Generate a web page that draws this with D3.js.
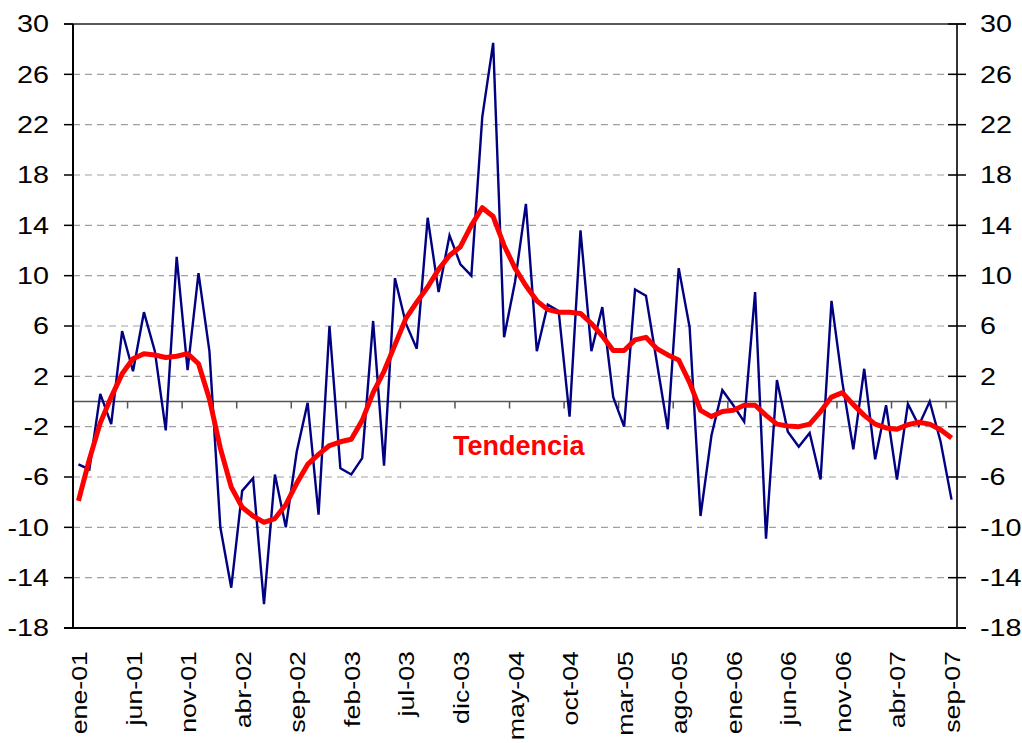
<!DOCTYPE html>
<html>
<head>
<meta charset="utf-8">
<script src="https://cdn.jsdelivr.net/npm/d3@7"></script>
<style>
  html, body { margin: 0; padding: 0; background: #fff; }
  svg { display: block; }
  text { font-family: "Liberation Sans", Arial, sans-serif; }
</style>
</head>
<body>
<svg id="chart" width="1022" height="743"></svg>
<script>
// ---- data ----
const monthNames = ["ene","feb","mar","abr","may","jun","jul","ago","sep","oct","nov","dic"];
const years = ["01","02","03","04","05","06","07"];
const categories = [];
years.forEach(y => monthNames.forEach(m => categories.push(m + "-" + y)));
categories.length = 81; // ene-01 .. sep-07

const monthly = [
  -5.0, -5.4, 0.6, -1.8, 5.6, 2.4, 7.1, 4.0, -2.3, 11.5, 2.5, 10.2,
  4.0, -10.0, -14.8, -7.1, -6.1, -16.1, -5.8, -10.0, -4.0, -0.1, -9.0, 6.0,
  -5.3, -5.8, -4.5, 6.4, -5.1, 9.8, 6.2, 4.2, 14.6, 8.7, 13.2, 10.9,
  10.0, 22.6, 28.5, 5.1, 9.5, 15.7, 4.0, 7.7, 7.2, -1.2, 13.6, 4.0,
  7.5, 0.35, -2.0, 8.9, 8.4, 3.1, -2.2, 10.6, 5.9, -9.1, -2.7, 0.9,
  -0.3, -1.6, 8.7, -10.9, 1.7, -2.4, -3.6, -2.5, -6.2, 8.0, 1.5, -3.8,
  2.6, -4.6, -0.3, -6.2, -0.2, -1.9, 0.0, -3.2, -7.8
];

const trend = [
  -7.9, -4.6, -1.7, 0.35, 2.2, 3.4, 3.8, 3.7, 3.5, 3.6, 3.8, 3.0,
  0.2, -3.7, -6.8, -8.4, -9.1, -9.6, -9.3, -8.2, -6.5, -5.0, -4.2, -3.5,
  -3.2, -3.0, -1.5, 0.7, 2.4, 4.5, 6.6, 7.9, 9.1, 10.5, 11.6, 12.3,
  14.0, 15.4, 14.7, 12.4, 10.6, 9.2, 8.0, 7.3, 7.1, 7.1, 7.0, 6.2,
  5.2, 4.05, 4.05, 4.9, 5.1, 4.2, 3.7, 3.3, 1.5, -0.7, -1.2, -0.8,
  -0.7, -0.3, -0.3, -1.1, -1.8, -1.95, -2.0, -1.8, -0.8, 0.35, 0.7, -0.25,
  -1.1, -1.8, -2.1, -2.2, -1.85, -1.65, -1.8, -2.25, -2.9
];

const yTicks = [-18, -14, -10, -6, -2, 2, 6, 10, 14, 18, 22, 26, 30];
const xLabelEvery = 5;
const trendLabel = "Tendencia";

// ---- layout ----
const svg = d3.select("#chart");
const L = 73, R = 957, T = 24, B = 628;

const x = d3.scalePoint().domain(categories).range([L, R]).padding(0.5);
const y = d3.scaleLinear().domain([-18, 30]).range([B, T]);
const step = x.step();

// gridlines
svg.append("g").selectAll("line").data(yTicks.filter(t => t !== -18 && t !== 30)).join("line")
  .attr("x1", L).attr("x2", R)
  .attr("y1", d => y(d)).attr("y2", d => y(d))
  .attr("stroke", "#a0a0a0").attr("stroke-width", 1.2)
  .attr("stroke-dasharray", "7,5");

// zero axis with category ticks
svg.append("line")
  .attr("x1", L).attr("x2", R).attr("y1", y(0)).attr("y2", y(0))
  .attr("stroke", "#555").attr("stroke-width", 1.5);
const bTicks = categories.filter((c, i) => i % xLabelEvery === 4 && i < categories.length - 1);
svg.append("g").selectAll("line").data(bTicks).join("line")
  .attr("x1", d => x(d) + step / 2).attr("x2", d => x(d) + step / 2)
  .attr("y1", y(0)).attr("y2", y(0) + 7)
  .attr("stroke", "#555").attr("stroke-width", 1.5);

// frame
svg.append("line").attr("x1", 64).attr("x2", 966).attr("y1", T).attr("y2", T)
  .attr("stroke", "#222").attr("stroke-width", 1.5);
svg.append("line").attr("x1", 64).attr("x2", 966).attr("y1", B).attr("y2", B)
  .attr("stroke", "#000").attr("stroke-width", 2);
svg.append("line").attr("x1", L).attr("x2", L).attr("y1", T).attr("y2", B)
  .attr("stroke", "#000").attr("stroke-width", 2);
svg.append("line").attr("x1", R).attr("x2", R).attr("y1", T).attr("y2", B)
  .attr("stroke", "#333").attr("stroke-width", 2);

// left axis ticks & labels
svg.append("g").selectAll("line").data(yTicks).join("line")
  .attr("x1", 64).attr("x2", L).attr("y1", d => y(d)).attr("y2", d => y(d))
  .attr("stroke", "#000").attr("stroke-width", 1.5);
svg.append("g").selectAll("text").data(yTicks).join("text")
  .attr("transform", d => `translate(49,${y(d) + 8.3}) scale(1.25,1)`)
  .attr("text-anchor", "end")
  .attr("font-size", 23).attr("fill", "#000")
  .text(d => d);

// right axis ticks & labels
svg.append("g").selectAll("line").data(yTicks).join("line")
  .attr("x1", 948).attr("x2", 966).attr("y1", d => y(d)).attr("y2", d => y(d))
  .attr("stroke", "#000").attr("stroke-width", 1.5);
svg.append("g").selectAll("text").data(yTicks).join("text")
  .attr("transform", d => `translate(980,${y(d) + 8.3}) scale(1.25,1)`)
  .attr("text-anchor", "start")
  .attr("font-size", 23).attr("fill", "#000")
  .text(d => d);

// x labels
const xLabels = categories.filter((c, i) => i % xLabelEvery === 0);
svg.append("g").selectAll("text").data(xLabels).join("text")
  .attr("transform", d => `translate(${x(d) + 8.5},651) rotate(-90) scale(1.19,1)`)
  .attr("text-anchor", "end")
  .attr("font-size", 22.5).attr("fill", "#000")
  .text(d => d);

// series
const line = d3.line().x((d, i) => x(categories[i])).y(d => y(d));
svg.append("path").datum(monthly)
  .attr("d", line).attr("fill", "none")
  .attr("stroke", "#000080").attr("stroke-width", 2.4)
  .attr("stroke-linejoin", "miter");
svg.append("path").datum(trend)
  .attr("d", line).attr("fill", "none")
  .attr("stroke", "#ff0000").attr("stroke-width", 5)
  .attr("stroke-linejoin", "round").attr("stroke-linecap", "butt");

// label
svg.append("text")
  .attr("x", 453).attr("y", 455)
  .attr("font-size", 27).attr("font-weight", "bold").attr("fill", "#ff0000")
  .text(trendLabel);
</script>
</body>
</html>
